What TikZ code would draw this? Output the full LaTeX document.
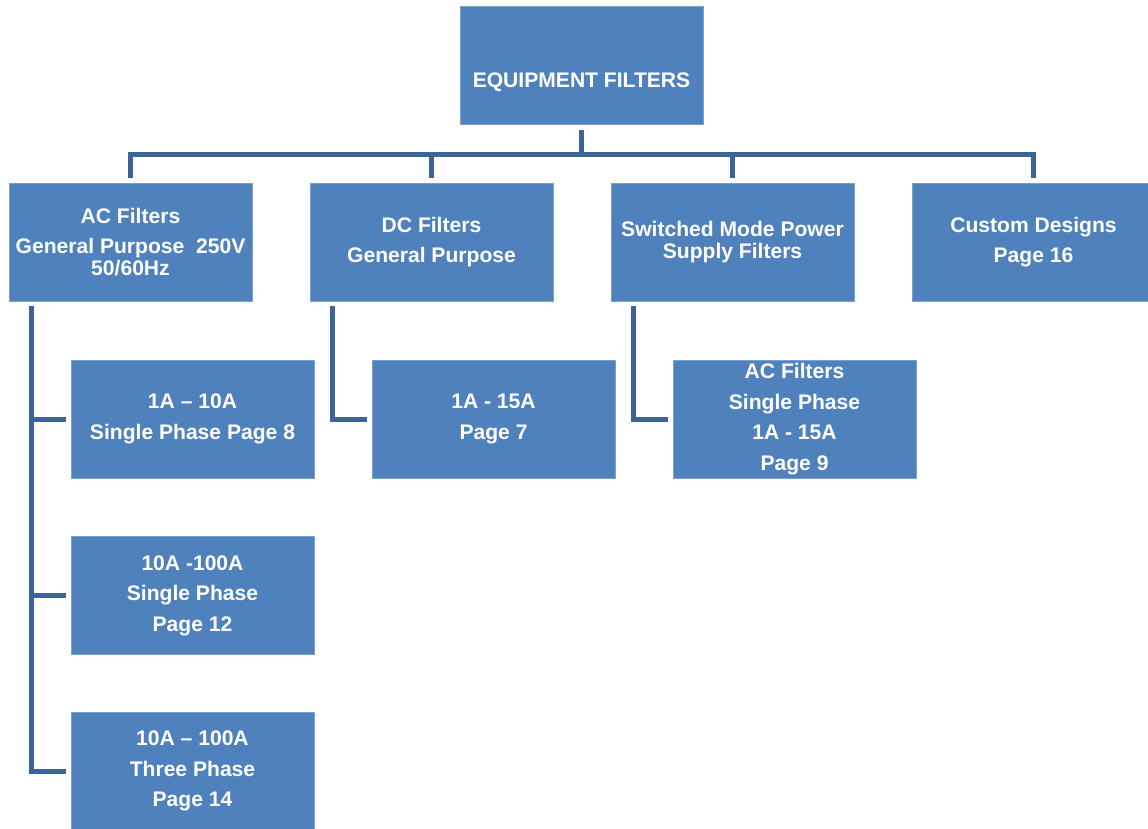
\documentclass[tikz,border=0pt]{standalone}
\usepackage{fontspec}
\setmainfont{Liberation Sans}
\definecolor{boxblue}{RGB}{79,129,189}
\definecolor{linkblue}{RGB}{60,100,150}
\tikzset{
    filterbox/.style={rectangle, fill=boxblue, draw=boxblue!75!white, line width=0.4pt,
        minimum width=4.86cm, minimum height=2.36cm, inner sep=0pt, outer sep=0.11cm,
        align=center, text=white, font=\fontsize{12}{12.6}\selectfont\bfseries},
    link/.style={draw=linkblue, line width=0.1cm},
}
\begin{document}
\begin{tikzpicture}[x=0.02cm, y=-0.02cm]
    \useasboundingbox (0,0) rectangle (1148,828);

    \node[filterbox, text height=0.98cm, text depth=0.1cm] (top) at (581.5,65.5) {EQUIPMENT FILTERS};

    \node[filterbox] (ac) at (130.5,242) {AC Filters\\[4.8pt]General Purpose\ \ 250V\\50/60Hz};
    \node[filterbox] (dc) at (431.5,242) {DC Filters\\[4.8pt]General Purpose};
    \node[filterbox] (smps) at (732.5,242) {Switched Mode Power\\Supply Filters};
    \node[filterbox] (custom) at (1033.5,242) {Custom Designs\\[4.8pt]Page 16};

    \node[filterbox] (acone) at (192.5,419) {1A -- 10A\\[4.8pt]Single Phase Page 8};
    \node[filterbox] (actwo) at (192.5,595.5) {10A -100A\\[4.8pt]Single Phase\\[4.8pt]Page 12};
    \node[filterbox] (acthree) at (192.5,771) {10A -- 100A\\[4.8pt]Three Phase\\[4.8pt]Page 14};
    \node[filterbox] (dcone) at (493.5,419) {1A - 15A\\[4.8pt]Page 7};
    \node[filterbox] (smpsone) at (794.5,419) {AC Filters\\[4.8pt]Single Phase\\[4.8pt]1A - 15A\\[4.8pt]Page 9};

    \coordinate (bus) at (581.5,154);
    \draw[link] (top.south) -- (bus);
    \foreach \n in {ac,dc,smps,custom}
        \draw[link] (bus) -| (\n.north);

    \foreach \n in {acone,actwo,acthree}
        \draw[link] ([xshift=0.55cm]ac.south west) |- (\n.west);
    \draw[link] ([xshift=0.55cm]dc.south west) |- (dcone.west);
    \draw[link] ([xshift=0.55cm]smps.south west) |- (smpsone.west);
\end{tikzpicture}
\end{document}
